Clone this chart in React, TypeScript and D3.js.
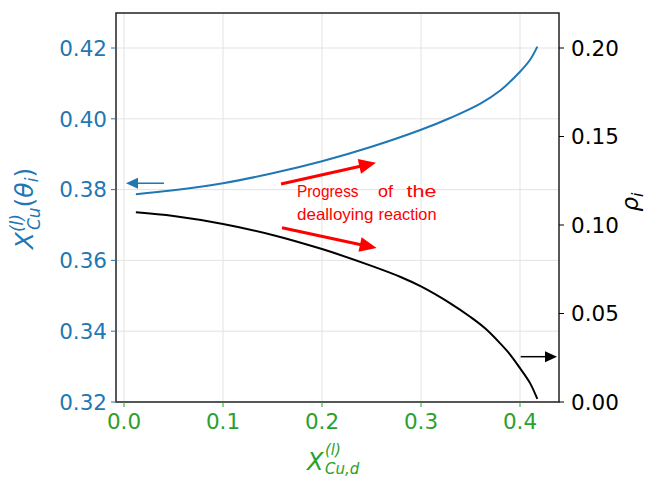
import React from "react";
import * as d3 from "d3";

const blueX = [0.012, 0.05, 0.1, 0.15, 0.2, 0.25, 0.3, 0.33, 0.36, 0.38, 0.4, 0.41, 0.4175];
const blueValues = [0.3787, 0.3798, 0.3818, 0.3846, 0.388, 0.3921, 0.3969, 0.4003, 0.4043, 0.408, 0.4133, 0.4166, 0.4204];
const blackX = [0.012, 0.05, 0.1, 0.15, 0.2, 0.25, 0.28, 0.3, 0.33, 0.35, 0.365, 0.38, 0.39, 0.4, 0.41, 0.4175];
const blackValues = [0.1072, 0.1051, 0.1006, 0.0944, 0.0864, 0.0769, 0.0705, 0.0653, 0.0556, 0.048, 0.0415, 0.0331, 0.0268, 0.0191, 0.0108, 0.0017];
const xTicks = [0.0, 0.1, 0.2, 0.3, 0.4];
const leftTicks = [0.32, 0.34, 0.36, 0.38, 0.4, 0.42];
const rightTicks = [0.0, 0.05, 0.1, 0.15, 0.2];
const noteWords1 = ["Progress", "of", "the"];
const noteWords2 = ["dealloying", "reaction"];

const W = 653, H = 477;
const L = 116, R = 559, T = 13, B = 402;
const BLUE = "#1f77b4";
const GREEN = "#2ca02c";
const FONT = "DejaVu Sans, sans-serif";

function Arrow({ x1, y1, x2, y2, color, lw, hl, hw }: { x1: number; y1: number; x2: number; y2: number; color: string; lw: number; hl: number; hw: number }) {
  const dx = x2 - x1, dy = y2 - y1;
  const len = Math.sqrt(dx * dx + dy * dy);
  const ux = dx / len, uy = dy / len;
  const bx = x2 - ux * hl, by = y2 - uy * hl;
  const px = -uy * hw / 2, py = ux * hw / 2;
  return (
    <g>
      <line x1={x1} y1={y1} x2={bx + ux * 1} y2={by + uy * 1} stroke={color} strokeWidth={lw} />
      <path d={`M${x2},${y2} L${bx + px},${by + py} L${bx - px},${by - py} Z`} fill={color} />
    </g>
  );
}

export default function App() {
  const x = d3.scaleLinear().domain([0.0, 0.4]).range([124, 520]);
  const yL = d3.scaleLinear().domain([0.32, 0.42]).range([B, 48]);
  const yR = d3.scaleLinear().domain([0.0, 0.2]).range([B, 48]);

  const blueLine = d3.line<number>().x((_, i) => x(blueX[i])).y((d) => yL(d)).curve(d3.curveCatmullRom.alpha(0.5));
  const blackLine = d3.line<number>().x((_, i) => x(blackX[i])).y((d) => yR(d)).curve(d3.curveCatmullRom.alpha(0.5));

  const w1 = [297, 378, 406.5];
  const l1 = [61.5, 15, 30];
  const w2 = [297, 378.5];
  const l2 = [76.5, 58];

  return (
    <svg width={W} height={H} style={{ position: "absolute", left: 0, top: 0, background: "#fff" }} fontFamily={FONT}>
      {/* grid */}
      {xTicks.map((t) => (
        <line key={"gx" + t} x1={x(t)} x2={x(t)} y1={T} y2={B} stroke="#e3e3e3" strokeWidth={1} />
      ))}
      {leftTicks.map((t) => (
        <line key={"gy" + t} x1={L} x2={R} y1={yL(t)} y2={yL(t)} stroke="#e3e3e3" strokeWidth={1} />
      ))}
      {/* curves */}
      <path d={blueLine(blueValues) || ""} fill="none" stroke={BLUE} strokeWidth={2} />
      <path d={blackLine(blackValues) || ""} fill="none" stroke="#000" strokeWidth={2} />
      {/* spines */}
      <rect x={L} y={T} width={R - L} height={B - T} fill="none" stroke="#222" strokeWidth={1.5} />
      {/* left ticks */}
      {leftTicks.map((t) => (
        <g key={"lt" + t}>
          <line x1={L - 5} x2={L} y1={yL(t)} y2={yL(t)} stroke={BLUE} strokeWidth={1} />
          <text x={L - 9} y={yL(t)} dy="0.36em" textAnchor="end" fontSize={21.5} fill={BLUE}>
            {t.toFixed(2)}
          </text>
        </g>
      ))}
      {/* right ticks */}
      {rightTicks.map((t) => (
        <g key={"rt" + t}>
          <line x1={R} x2={R + 5} y1={yR(t)} y2={yR(t)} stroke="#000" strokeWidth={1} />
          <text x={R + 12} y={yR(t)} dy="0.36em" textAnchor="start" fontSize={21.5} fill="#000">
            {t.toFixed(2)}
          </text>
        </g>
      ))}
      {/* bottom ticks */}
      {xTicks.map((t) => (
        <g key={"bt" + t}>
          <line x1={x(t)} x2={x(t)} y1={B} y2={B + 5} stroke={GREEN} strokeWidth={1} />
          <text x={x(t)} y={B + 27} textAnchor="middle" fontSize={21.5} fill={GREEN}>
            {t.toFixed(1)}
          </text>
        </g>
      ))}
      {/* axis labels */}
      <text transform="translate(33,208.5) rotate(-90)" textAnchor="middle" fill={BLUE} fontSize={25}>
        <tspan fontStyle="italic">X</tspan>
        <tspan fontSize={17} dy={-10} fontStyle="italic">(l)</tspan>
        <tspan fontSize={17} dy={17} dx={-16} fontStyle="italic">Cu</tspan>
        <tspan dy={-7}>(</tspan>
        <tspan fontStyle="italic">θ</tspan>
        <tspan fontSize={17} dy={5} fontStyle="italic">i</tspan>
        <tspan dy={-5}>)</tspan>
      </text>
      <text x={307} y={470} fill={GREEN} fontSize={24} fontStyle="italic">X</text>
      <text x={325} y={455} fill={GREEN} fontSize={15} fontStyle="italic">(l)</text>
      <text x={325} y={474} fill={GREEN} fontSize={15} fontStyle="italic">Cu,d</text>
      <text transform="translate(638,202) rotate(-90)" textAnchor="middle" fill="#000" fontSize={23}>
        <tspan fontStyle="italic">ρ</tspan>
        <tspan fontSize={16} dy={5} fontStyle="italic">i</tspan>
      </text>
      {/* annotation arrows */}
      <Arrow x1={x(0.0404)} y1={yL(0.3818)} x2={x(0.002)} y2={yL(0.3818)} color={BLUE} lw={1.5} hl={12} hw={11} />
      <Arrow x1={x(0.4007)} y1={yR(0.0256)} x2={x(0.4374)} y2={yR(0.0256)} color="#000" lw={1.5} hl={12} hw={11} />
      <Arrow x1={x(0.1586)} y1={yL(0.3816)} x2={x(0.2545)} y2={yL(0.3876)} color="#f00" lw={3} hl={17} hw={15} />
      <Arrow x1={x(0.1596)} y1={yL(0.3692)} x2={x(0.2552)} y2={yL(0.3635)} color="#f00" lw={3} hl={17} hw={15} />
      {noteWords1.map((w, i) => (
        <text key={w} x={w1[i]} y={197} fill="#f00" fontSize={16.5} fontFamily="Liberation Sans, sans-serif" textLength={l1[i]} lengthAdjust="spacingAndGlyphs">
          {w}
        </text>
      ))}
      {noteWords2.map((w, i) => (
        <text key={w} x={w2[i]} y={219.5} fill="#f00" fontSize={16.5} fontFamily="Liberation Sans, sans-serif" textLength={l2[i]} lengthAdjust="spacingAndGlyphs">
          {w}
        </text>
      ))}
    </svg>
  );
}
